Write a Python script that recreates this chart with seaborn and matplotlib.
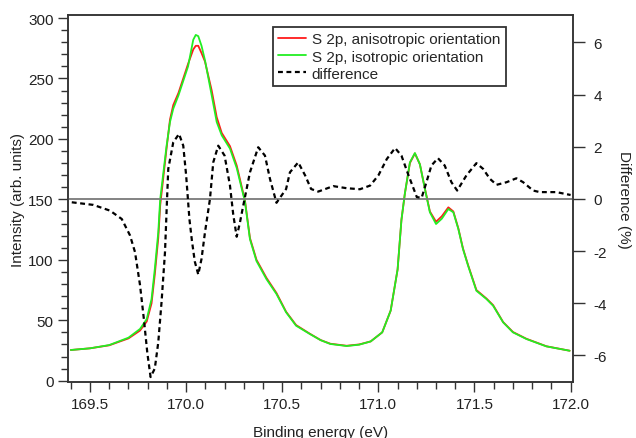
import matplotlib
matplotlib.use("Agg")
import matplotlib.pyplot as plt
import seaborn as sns
import pandas as pd
from matplotlib.ticker import MultipleLocator
from matplotlib.lines import Line2D

# ---- data ----
energy = [169.40, 169.50, 169.60, 169.70, 169.76, 169.795, 169.82, 169.837, 169.855,
          169.865, 169.898, 169.916, 169.933, 169.96, 169.985, 170.01, 170.037, 170.05,
          170.063, 170.08, 170.098, 170.133, 170.159, 170.185, 170.228, 170.263, 170.306,
          170.332, 170.366, 170.418, 170.47, 170.52, 170.572, 170.644, 170.70, 170.75,
          170.835, 170.90, 170.96, 171.02, 171.064, 171.10, 171.12, 171.138, 171.164,
          171.19, 171.216, 171.242, 171.268, 171.30, 171.33, 171.364, 171.39, 171.416,
          171.44, 171.467, 171.51, 171.562, 171.597, 171.649, 171.70, 171.77, 171.874,
          171.995]
iso = [25.4, 26.8, 29.5, 35.6, 42.8, 51, 67.5, 92.4, 122.7,
       150, 194, 214, 225, 236, 248, 260, 282, 286,
       285, 277, 265, 236, 214, 203, 192, 176, 148,
       117, 99, 84, 71.7, 56.6, 45.5, 38.6, 33.5, 30.4,
       28.7, 29.8, 32.5, 40, 58, 92, 133, 155, 180.6,
       188.3, 179, 158.6, 139.3, 129.6, 134, 142, 139.3, 125.5,
       109, 95, 74.4, 67.6, 62, 48.3, 40, 34.5, 28.4,
       24.8]
aniso = [25.4, 26.8, 29.3, 35.0, 41.5, 49, 64, 88, 118,
         145, 192, 216, 228, 238, 250, 262, 274, 277,
         277, 271, 264, 240, 218, 205, 194, 178, 149,
         118, 100, 85, 72.5, 57, 46, 38.8, 33.6, 30.6,
         28.9, 30.0, 32.5, 40, 58, 92, 133, 155, 180,
         188, 179, 159, 140, 131.5, 136, 143.4, 140, 126,
         109.5, 95.5, 75, 68, 62.5, 48.5, 40.3, 34.7, 28.5,
         24.8]

diff_energy = [169.405, 169.517, 169.604, 169.665, 169.708, 169.734, 169.76, 169.78,
               169.798, 169.815, 169.837, 169.855, 169.872, 169.89, 169.90, 169.907,
               169.933, 169.963, 169.985, 170.0, 170.017, 170.03, 170.045, 170.063,
               170.08, 170.098, 170.124, 170.141, 170.167, 170.2, 170.228, 170.245,
               170.263, 170.28, 170.297, 170.332, 170.375, 170.41, 170.436, 170.47,
               170.52, 170.54, 170.583, 170.619, 170.65, 170.687, 170.765, 170.835,
               170.904, 170.957, 171.0, 171.044, 171.087, 171.12, 171.157, 171.2,
               171.225, 171.25, 171.276, 171.31, 171.345, 171.38, 171.41, 171.458,
               171.51, 171.545, 171.58, 171.615, 171.667, 171.718, 171.753, 171.805,
               171.84, 171.926, 172.0]
difference = [-0.13, -0.23, -0.45, -0.77, -1.4, -2.04, -3.3, -4.6,
              -5.9, -6.83, -6.5, -5.5, -3.96, -2.04, -0.13, 1.15,
              2.17, 2.49, 2.04, 0.9, -0.77, -1.6, -2.4, -2.9,
              -2.3, -1.28, 0.0, 1.4, 2.04, 1.66, 0.51, -0.6,
              -1.45, -0.9, -0.26, 1.02, 1.98, 1.66, 0.77, -0.15,
              0.38, 1.02, 1.4, 0.9, 0.38, 0.28, 0.49, 0.41,
              0.37, 0.51, 0.9, 1.53, 1.95, 1.66, 0.9, 0.07,
              0.04, 0.64, 1.28, 1.56, 1.28, 0.64, 0.32, 0.9,
              1.37, 1.15, 0.77, 0.54, 0.64, 0.79, 0.64, 0.32,
              0.26, 0.26, 0.15]

labels = ["S 2p, anisotropic orientation", "S 2p, isotropic orientation", "difference"]

sns.set_style("white")
plt.rcParams['font.family'] = ['Liberation Sans', 'DejaVu Sans']
plt.rcParams['font.size'] = 11
plt.rcParams['axes.unicode_minus'] = False

spec = pd.DataFrame({"E": energy, "iso": iso, "aniso": aniso})
dd = pd.DataFrame({"E": diff_energy, "D": difference})

fig = plt.figure(figsize=(6.36, 4.39), dpi=100)
ax = fig.add_axes([0.1074, 0.1269, 0.7940, 0.8367])
ax2 = ax.twinx()

RED = "#ff1a1a"
GREEN = "#22ee22"
DASH = (0, (2.2, 1.6))

ax2.axhline(0, color="#7a7a7a", lw=1.3, zorder=1)
sns.lineplot(data=spec, x="E", y="aniso", ax=ax, color=RED, lw=1.3, sort=False)
sns.lineplot(data=spec, x="E", y="iso", ax=ax, color=GREEN, lw=1.3, sort=False)
sns.lineplot(data=dd, x="E", y="D", ax=ax2, color="black", lw=1.6, sort=False,
             dashes=False, linestyle=DASH)

ax.set_xlim(169.387, 172.014)
ax.set_ylim(-1.3, 302.5)
ax2.set_ylim(-7.03, 7.05)

ax.xaxis.set_major_locator(MultipleLocator(0.5))
ax.xaxis.set_minor_locator(MultipleLocator(0.1))
ax.yaxis.set_major_locator(MultipleLocator(50))
ax.yaxis.set_minor_locator(MultipleLocator(10))
ax2.yaxis.set_major_locator(MultipleLocator(2))

for a in (ax, ax2):
    a.tick_params(which="major", direction="out", length=7.5, width=1.0, color="#333333",
                  labelsize=11, labelcolor="#222222", pad=3)
    a.tick_params(which="minor", direction="out", length=4.8, width=1.0, color="#333333")
    for s in a.spines.values():
        s.set_color("#333333")
        s.set_linewidth(1.1)
ax.tick_params(axis="x", which="both", bottom=True)
ax.tick_params(axis="y", which="both", left=True)
ax2.tick_params(axis="y", which="major", right=True, length=8.5, pad=6)

ax.set_xlabel("Binding energy (eV)", fontsize=11, color="#222222", labelpad=10)
ax.set_ylabel("Intensity (arb. units)", fontsize=11, color="#222222", labelpad=2)
ax2.set_ylabel("Difference (%)", fontsize=11, color="#222222", rotation=270, labelpad=17.5)

handles = [Line2D([], [], color=RED, lw=1.3),
           Line2D([], [], color=GREEN, lw=1.3),
           Line2D([], [], color="black", lw=1.6, linestyle=DASH)]
leg = ax2.legend(handles, labels, loc="upper left", bbox_to_anchor=(0.405, 0.967),
                 borderaxespad=0, frameon=True, fancybox=False, framealpha=1,
                 edgecolor="#333333", fontsize=11, handlelength=1.8, handletextpad=0.4,
                 labelspacing=0.2, borderpad=0.35)
leg.get_frame().set_linewidth(1.3)

fig.savefig("out.png", dpi=100)
